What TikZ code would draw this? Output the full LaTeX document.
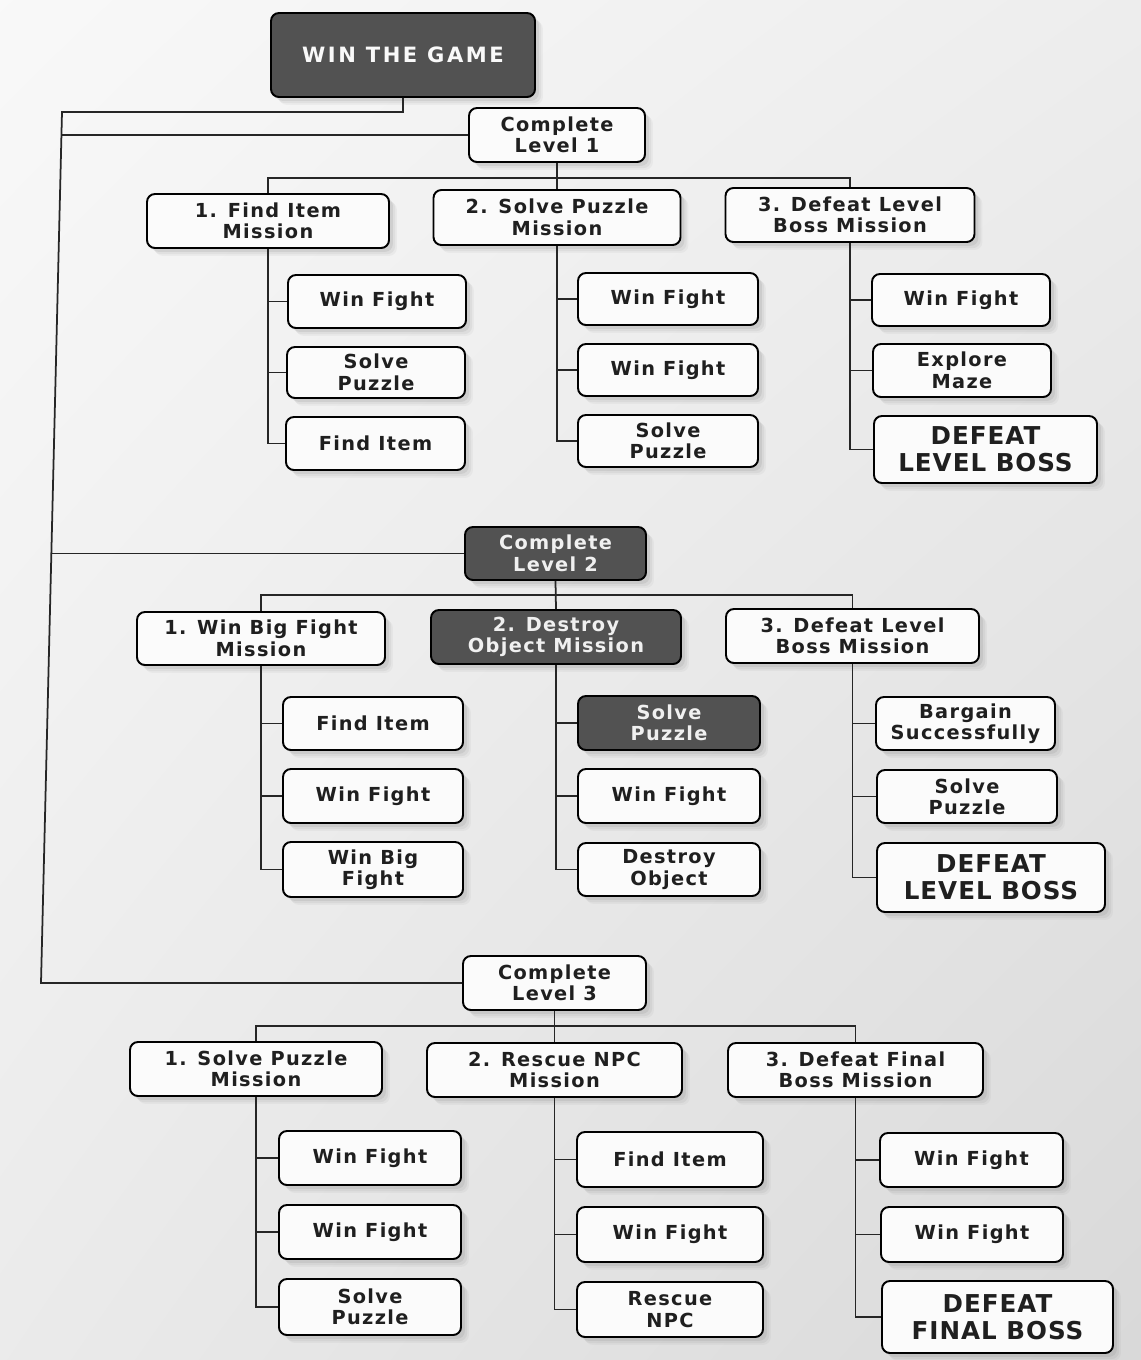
\documentclass[tikz,border=0pt]{standalone}
\usepackage{fontspec}
\setmainfont{DejaVu Sans}
\newfontfamily\boxfont[LetterSpace=7]{DejaVu Sans}
\newfontfamily\bigfont[LetterSpace=4]{DejaVu Sans}
\newfontfamily\topfont[LetterSpace=12]{DejaVu Sans}
\usetikzlibrary{shadows,shadings}
\tikzset{
  bx/.style={draw=black, line width=1.1pt, rounded corners=4.5pt, fill=gray!3,
    align=center, text=black!88, inner sep=0pt,
    font=\boxfont\bfseries\fontsize{11}{12.2}\selectfont,
    drop shadow={shadow xshift=4.5pt, shadow yshift=-4.5pt, opacity=0.07},
    drop shadow={shadow xshift=3.5pt, shadow yshift=-3.5pt, opacity=0.1},
    drop shadow={shadow xshift=2.2pt, shadow yshift=-2.2pt, opacity=0.15}},
  dk/.style={bx, fill=black!68, text=gray!12},
  bigbx/.style={bx, font=\bigfont\bfseries\fontsize{14}{15.4}\selectfont},
  topbx/.style={dk, font=\topfont\bfseries\fontsize{12}{13}\selectfont, text=gray!5},
  ln/.style={line width=1pt, draw=black!85},
}
\newcommand\mybox[7]{\node[#6, minimum width=#3*0.02cm, minimum height=#4*0.02cm] (#5) at (#1,#2) {#7};}
\begin{document}
\begin{tikzpicture}[x=0.02cm, y=-0.02cm]
\useasboundingbox (0,0) rectangle (1141,1360);
\shade[upper left=gray!5, upper right=gray!14, lower left=gray!16, lower right=gray!30] (0,0) rectangle (1141,1360);

% top
\mybox{403}{55}{264}{84}{WIN}{topbx}{WIN THE GAME}
\mybox{557}{135}{176}{54}{L1}{bx}{Complete\\Level 1}
\mybox{555.5}{553.5}{181}{53}{L2}{dk}{Complete\\Level 2}
\mybox{554.5}{983}{183}{54}{L3}{bx}{Complete\\Level 3}

% level 1
\mybox{268}{221}{242}{54}{M11}{bx}{1. Find Item\\Mission}
\mybox{557}{217.5}{247}{55}{M12}{bx}{2. Solve Puzzle\\Mission}
\mybox{850}{215}{249}{54}{M13}{bx}{3. Defeat Level\\Boss Mission}
\mybox{377}{301.5}{178}{53}{A1}{bx}{Win Fight}
\mybox{376}{372.5}{178}{51}{A2}{bx}{Solve\\Puzzle}
\mybox{375.5}{443.5}{179}{53}{A3}{bx}{Find Item}
\mybox{668}{299}{180}{52}{B1}{bx}{Win Fight}
\mybox{668}{370}{180}{52}{B2}{bx}{Win Fight}
\mybox{668}{441}{180}{52}{B3}{bx}{Solve\\Puzzle}
\mybox{961}{300}{178}{52}{C1}{bx}{Win Fight}
\mybox{962}{370.5}{178}{53}{C2}{bx}{Explore\\Maze}
\mybox{985.5}{449.5}{223}{67}{C3}{bigbx}{DEFEAT\\LEVEL BOSS}

% level 2
\mybox{261}{638.5}{248}{53}{M21}{bx}{1. Win Big Fight\\Mission}
\mybox{556}{637}{250}{54}{M22}{dk}{2. Destroy\\Object Mission}
\mybox{852.5}{636}{253}{54}{M23}{bx}{3. Defeat Level\\Boss Mission}
\mybox{373}{723.5}{180}{53}{D1}{bx}{Find Item}
\mybox{373}{796}{180}{54}{D2}{bx}{Win Fight}
\mybox{373}{869.5}{180}{55}{D3}{bx}{Win Big\\Fight}
\mybox{669}{723}{182}{54}{E1}{dk}{Solve\\Puzzle}
\mybox{669}{796}{182}{54}{E2}{bx}{Win Fight}
\mybox{669}{869.5}{182}{53}{E3}{bx}{Destroy\\Object}
\mybox{965.5}{723.5}{179}{53}{F1}{bx}{Bargain\\Successfully}
\mybox{967}{796.5}{180}{53}{F2}{bx}{Solve\\Puzzle}
\mybox{991}{877.5}{228}{69}{F3}{bigbx}{DEFEAT\\LEVEL BOSS}

% level 3
\mybox{256}{1069}{252}{54}{M31}{bx}{1. Solve Puzzle\\Mission}
\mybox{554.5}{1070}{255}{54}{M32}{bx}{2. Rescue NPC\\Mission}
\mybox{855.5}{1070}{255}{54}{M33}{bx}{3. Defeat Final\\Boss Mission}
\mybox{370}{1158}{182}{54}{G1}{bx}{Win Fight}
\mybox{370}{1232}{182}{54}{G2}{bx}{Win Fight}
\mybox{370}{1307}{182}{56}{G3}{bx}{Solve\\Puzzle}
\mybox{670}{1159.5}{186}{55}{H1}{bx}{Find Item}
\mybox{670}{1234.5}{186}{55}{H2}{bx}{Win Fight}
\mybox{670}{1309.5}{186}{55}{H3}{bx}{Rescue\\NPC}
\mybox{971.5}{1160}{183}{54}{I1}{bx}{Win Fight}
\mybox{972}{1234.5}{182}{55}{I2}{bx}{Win Fight}
\mybox{997.5}{1317}{231}{72}{I3}{bigbx}{DEFEAT\\FINAL BOSS}

% trunk
\coordinate (t0) at (62,112);
\coordinate (t1) at (61,135);
\coordinate (t2) at (51.4,553.5);
\coordinate (t3) at (41,983);
\draw[ln] (WIN.south) |- (t0) -- (t3) -- (L3.west);
\draw[ln] (t1) -- (L1.west);
\draw[ln] (t2) -- (L2.west);

% buses
\coordinate (b1) at (557,178);
\coordinate (b2) at (555.5,595);
\coordinate (b3) at (554.5,1026);
\draw[ln] (L1.south) -- (M12.north);
\draw[ln] (M11.north) |- (b1) -| (M13.north);
\draw[ln] (L2.south) -- (M22.north);
\draw[ln] (M21.north) |- (b2) -| (M23.north);
\draw[ln] (L3.south) -- (M32.north);
\draw[ln] (M31.north) |- (b3) -| (M33.north);

% sub columns
\foreach \m/\a/\b/\c in {M11/A1/A2/A3, M12/B1/B2/B3, M13/C1/C2/C3,
                          M21/D1/D2/D3, M22/E1/E2/E3, M23/F1/F2/F3,
                          M31/G1/G2/G3, M32/H1/H2/H3, M33/I1/I2/I3}{
  \draw[ln] (\m.south) |- (\c.west);
  \draw[ln] (\a.west) -- (\a.west -| \m.south);
  \draw[ln] (\b.west) -- (\b.west -| \m.south);
}
\end{tikzpicture}
\end{document}
